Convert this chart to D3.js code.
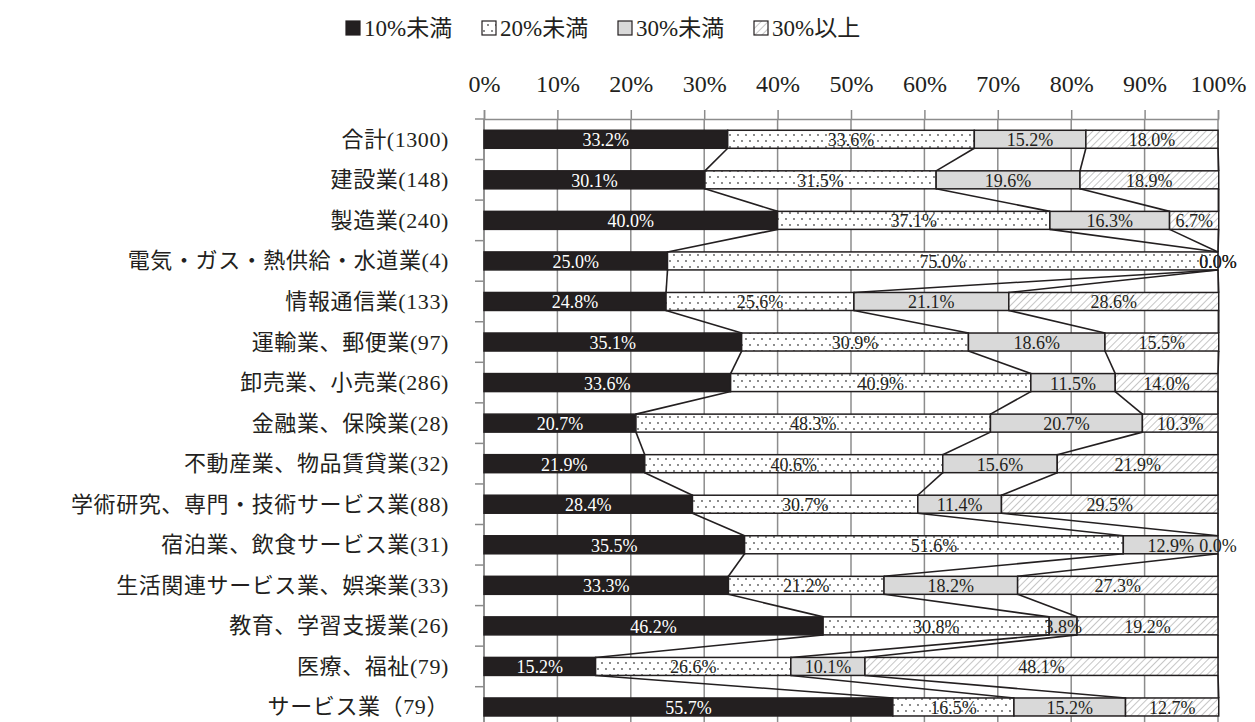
<!DOCTYPE html>
<html lang="ja">
<head>
<meta charset="utf-8">
<script src="https://cdn.jsdelivr.net/npm/d3@7"></script>
<style>
  html, body { margin: 0; padding: 0; background: #fff; }
  svg { display: block; }
  text { font-family: "Liberation Serif", "Noto Sans CJK JP", serif; fill: #231f20; }
</style>
</head>
<body>
<svg id="chart" width="1255" height="722"></svg>
<script>
// 業種別の割合（%）
const categories = [
  "合計(1300)", "建設業(148)", "製造業(240)", "電気・ガス・熱供給・水道業(4)",
  "情報通信業(133)", "運輸業、郵便業(97)", "卸売業、小売業(286)", "金融業、保険業(28)",
  "不動産業、物品賃貸業(32)", "学術研究、専門・技術サービス業(88)", "宿泊業、飲食サービス業(31)",
  "生活関連サービス業、娯楽業(33)", "教育、学習支援業(26)", "医療、福祉(79)", "サービス業（79）"
];
const seriesNames = ["10%未満", "20%未満", "30%未満", "30%以上"];
const under10 = [33.2, 30.1, 40.0, 25.0, 24.8, 35.1, 33.6, 20.7, 21.9, 28.4, 35.5, 33.3, 46.2, 15.2, 55.7];
const under20 = [33.6, 31.5, 37.1, 75.0, 25.6, 30.9, 40.9, 48.3, 40.6, 30.7, 51.6, 21.2, 30.8, 26.6, 16.5];
const under30 = [15.2, 19.6, 16.3, 0.0, 21.1, 18.6, 11.5, 20.7, 15.6, 11.4, 12.9, 18.2, 3.8, 10.1, 15.2];
const over30  = [18.0, 18.9, 6.7, 0.0, 28.6, 15.5, 14.0, 10.3, 21.9, 29.5, 0.0, 27.3, 19.2, 48.1, 12.7];
const tickValues = [0, 10, 20, 30, 40, 50, 60, 70, 80, 90, 100];

const seriesValues = [under10, under20, under30, over30];
const rows = categories.map((c, i) => {
  const r = { category: c };
  seriesNames.forEach((s, k) => { r[s] = seriesValues[k][i]; });
  return r;
});

const ink = "#231f20";
const fontStack = '"Liberation Serif", "Noto Sans CJK JP", serif';
const svg = d3.select("#chart");

// fills: solid, dotted, light gray, hatched
const defs = svg.append("defs");
const dots = defs.append("pattern").attr("id", "dots")
  .attr("patternUnits", "userSpaceOnUse").attr("width", 8).attr("height", 12);
dots.append("rect").attr("width", 8).attr("height", 12).attr("fill", "#fff");
dots.append("circle").attr("cx", 2).attr("cy", 3).attr("r", 0.9).attr("fill", "#555");
dots.append("circle").attr("cx", 6).attr("cy", 9).attr("r", 0.9).attr("fill", "#555");
const hatch = defs.append("pattern").attr("id", "hatch")
  .attr("patternUnits", "userSpaceOnUse").attr("width", 5).attr("height", 5)
  .attr("patternTransform", "rotate(45)");
hatch.append("rect").attr("width", 5).attr("height", 5).attr("fill", "#fff");
hatch.append("line").attr("x1", 0).attr("y1", 0).attr("x2", 0).attr("y2", 5)
  .attr("stroke", "#a8a8a8").attr("stroke-width", 1.3);

const fills = { "10%未満": ink, "20%未満": "url(#dots)", "30%未満": "#d9d9d9", "30%以上": "url(#hatch)" };
const labelColors = { "10%未満": "#fff", "20%未満": ink, "30%未満": ink, "30%以上": ink };

const plotTop = 119, step = 40.55;
const x = d3.scaleLinear().domain([0, 100]).range([484, 1218]);
const y = d3.scaleBand().domain(categories)
  .range([plotTop, plotTop + step * categories.length])
  .paddingInner(0.556).paddingOuter(0.278);
const barH = y.bandwidth();
const yc = c => y(c) + barH / 2;

// vertical gridlines
svg.append("g").selectAll("line").data(tickValues).join("line")
  .attr("x1", d => x(d)).attr("x2", d => x(d))
  .attr("y1", plotTop).attr("y2", 722)
  .attr("stroke", "#8c8c8c").attr("stroke-width", 1.5);

// top value axis
const xAxis = svg.append("g").attr("transform", `translate(0,${plotTop})`)
  .call(d3.axisTop(x).tickValues(tickValues).tickFormat(d => d + "%").tickSize(9).tickPadding(18));
xAxis.attr("font-family", null).attr("font-size", null).style("font-family", fontStack);
xAxis.select(".domain").attr("stroke", "#8c8c8c").attr("stroke-width", 1.5);
xAxis.selectAll(".tick line").attr("stroke", "#8c8c8c").attr("stroke-width", 1.5);
xAxis.selectAll(".tick text").style("font-family", fontStack).style("font-size", "24px").attr("fill", ink);

// left category axis line and ticks between rows
svg.append("line").attr("x1", x(0)).attr("x2", x(0)).attr("y1", plotTop).attr("y2", 722)
  .attr("stroke", "#8c8c8c").attr("stroke-width", 1.5);
svg.append("g").selectAll("line").data(d3.range(categories.length + 1)).join("line")
  .attr("x1", x(0) - 9).attr("x2", x(0))
  .attr("y1", i => plotTop + i * step).attr("y2", i => plotTop + i * step)
  .attr("stroke", "#8c8c8c").attr("stroke-width", 1.5);

// category labels
svg.append("g").selectAll("text").data(categories).join("text")
  .attr("x", 449).attr("y", d => yc(d))
  .attr("text-anchor", "end").attr("dominant-baseline", "central")
  .attr("font-size", 22).attr("letter-spacing", 0.6).text(d => d);

// stacked bars
const stacked = d3.stack().keys(seriesNames)(rows);
const layers = svg.append("g").selectAll("g").data(stacked).join("g")
  .attr("fill", s => fills[s.key]);
layers.selectAll("rect").data(s => s).join("rect")
  .attr("x", d => x(d[0])).attr("width", d => x(d[1]) - x(d[0]))
  .attr("y", d => y(d.data.category)).attr("height", barH)
  .attr("stroke", ink).attr("stroke-width", 1.5);

// series lines linking segment ends of neighbouring bars
const seriesLines = [];
stacked.forEach(s => {
  for (let i = 0; i < s.length - 1; i++) {
    seriesLines.push({ x1: x(s[i][1]), y1: y(s[i].data.category) + barH,
                       x2: x(s[i + 1][1]), y2: y(s[i + 1].data.category) });
  }
});
svg.append("g").selectAll("line").data(seriesLines).join("line")
  .attr("x1", d => d.x1).attr("y1", d => d.y1).attr("x2", d => d.x2).attr("y2", d => d.y2)
  .attr("stroke", ink).attr("stroke-width", 1.6);

// value labels
stacked.forEach(s => {
  svg.append("g").selectAll("text").data(s).join("text")
    .attr("x", d => x((d[0] + d[1]) / 2)).attr("y", d => yc(d.data.category) + 1)
    .attr("text-anchor", "middle").attr("dominant-baseline", "central")
    .attr("font-size", 18).style("fill", labelColors[s.key])
    .text(d => (d[1] - d[0]).toFixed(1) + "%");
});

// legend
const legend = svg.append("g").selectAll("g").data(seriesNames).join("g")
  .attr("transform", (d, i) => `translate(${346 + i * 136},28)`);
legend.append("rect").attr("x", 0).attr("y", -7).attr("width", 14).attr("height", 14)
  .attr("fill", d => fills[d]).attr("stroke", ink).attr("stroke-width", 1.2);
legend.append("text").attr("x", 18).attr("y", 0).attr("dominant-baseline", "central")
  .attr("font-size", 23).text(d => d);
</script>
</body>
</html>
